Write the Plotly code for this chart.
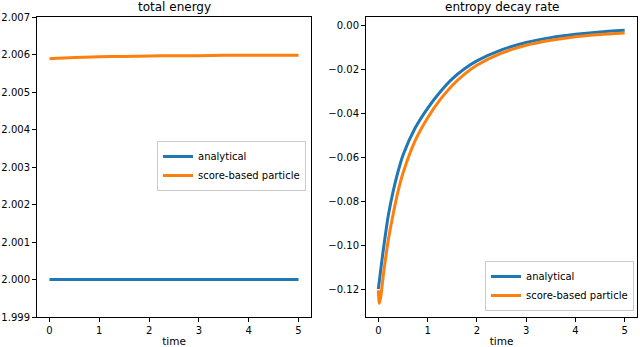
import plotly.graph_objs as go
from plotly.subplots import make_subplots

# ---------------- Data ---------------- #
# total energy panel
t_energy = [0, 0.5, 1, 1.5, 2, 2.5, 3, 3.5, 4, 4.5, 5]
energy_analytical = [2.0, 2.0, 2.0, 2.0, 2.0, 2.0, 2.0, 2.0, 2.0, 2.0, 2.0]
energy_particle = [2.00589, 2.00592, 2.00594, 2.00595, 2.00596, 2.00597,
                   2.00597, 2.00598, 2.00598, 2.00598, 2.00598]

# entropy decay rate panel
t_blue = [0, 0.05, 0.1, 0.2, 0.3, 0.4, 0.5, 0.75, 1.0, 1.25, 1.5, 1.75,
          2.0, 2.5, 3.0, 3.5, 4.0, 4.5, 5.0]
decay_analytical = [-0.1200, -0.1110, -0.1023, -0.0868, -0.0755, -0.0665,
                    -0.0590, -0.0465, -0.0376, -0.0303, -0.0242, -0.0196,
                    -0.0160, -0.0110, -0.0076, -0.0054, -0.0039, -0.0028,
                    -0.0020]
t_orange = [0, 0.02, 0.05, 0.1, 0.2, 0.3, 0.4, 0.5, 0.75, 1.0, 1.25, 1.5,
            1.75, 2.0, 2.5, 3.0, 3.5, 4.0, 4.5, 5.0]
decay_particle = [-0.1205, -0.1265, -0.1235, -0.1140, -0.0980, -0.0860,
                  -0.0755, -0.0672, -0.0522, -0.0420, -0.0338, -0.0272,
                  -0.0220, -0.0180, -0.0125, -0.0089, -0.0066, -0.0050,
                  -0.0040, -0.0033]

x_ticks = [0, 1, 2, 3, 4, 5]
energy_ticks = [1.999, 2.000, 2.001, 2.002, 2.003, 2.004, 2.005, 2.006, 2.007]
decay_ticks = [0.00, -0.02, -0.04, -0.06, -0.08, -0.10, -0.12]

BLUE = '#1f77b4'
ORANGE = '#ff7f0e'
FONT = "DejaVu Sans"

# ---------------- Figure ---------------- #
fig = make_subplots(rows=1, cols=2)

# Left panel
fig.add_trace(go.Scatter(x=t_energy, y=energy_analytical, mode='lines', name='analytical',
                         line=dict(color=BLUE, width=3), legend='legend'), row=1, col=1)
fig.add_trace(go.Scatter(x=t_energy, y=energy_particle, mode='lines', name='score-based particle',
                         line=dict(color=ORANGE, width=3, shape='spline'), legend='legend'), row=1, col=1)

# Right panel
fig.add_trace(go.Scatter(x=t_blue, y=decay_analytical, mode='lines', name='analytical',
                         line=dict(color=BLUE, width=3, shape='spline', smoothing=0.6),
                         legend='legend2'), row=1, col=2)
fig.add_trace(go.Scatter(x=t_orange, y=decay_particle, mode='lines', name='score-based particle',
                         line=dict(color=ORANGE, width=3, shape='spline', smoothing=0.6),
                         legend='legend2'), row=1, col=2)

axis_style = dict(showline=True, mirror=True, linecolor='black', linewidth=1,
                  ticks='outside', ticklen=4, tickcolor='black', showgrid=False,
                  zeroline=False, tickfont=dict(family=FONT, size=10, color='black'),
                  automargin=False)

fig.update_xaxes(**axis_style, range=[-0.25, 5.25], tickvals=x_ticks,
                 title=dict(text='time', font=dict(family=FONT, size=10.5, color='black'), standoff=3))
fig.update_yaxes(**axis_style)

legend_style = dict(bgcolor='rgba(255,255,255,0.8)', bordercolor='#cccccc', borderwidth=1,
                    font=dict(family=FONT, size=10, color='black'), itemwidth=30,
                    tracegroupgap=0)

fig.update_layout(
    xaxis=dict(domain=[37 / 640, 311 / 640]),
    xaxis2=dict(domain=[366 / 640, 637 / 640]),
    yaxis=dict(domain=[1 - 317 / 347, 1 - 17 / 347], range=[1.999, 2.007],
               tickvals=energy_ticks, tickformat='.3f'),
    yaxis2=dict(domain=[1 - 317 / 347, 1 - 17 / 347], range=[-0.1327, 0.004],
                tickvals=decay_ticks, tickformat='.2f'),
    width=640, height=347,
    margin=dict(l=0, r=0, t=0, b=0),
    paper_bgcolor='white', plot_bgcolor='white',
    font=dict(family=FONT, color='black'),
    legend=dict(x=306 / 640, y=1 - 166 / 347, xanchor='right', yanchor='middle', **legend_style),
    legend2=dict(x=634 / 640, y=1 - 311 / 347, xanchor='right', yanchor='bottom', **legend_style),
    annotations=[
        dict(text='total energy', x=174 / 640, y=1 - 17 / 347, xref='paper', yref='paper',
             xanchor='center', yanchor='bottom', yshift=1, showarrow=False,
             font=dict(family=FONT, size=12, color='black')),
        dict(text='entropy decay rate', x=(366 + 637) / 2 / 640, y=1 - 17 / 347,
             xref='paper', yref='paper', xanchor='center', yanchor='bottom', yshift=1,
             showarrow=False, font=dict(family=FONT, size=12, color='black')),
    ],
)

fig.write_html("out.html", config={'displayModeBar': False},
               post_script="document.body.style.margin='0px';document.body.style.overflow='hidden';")
